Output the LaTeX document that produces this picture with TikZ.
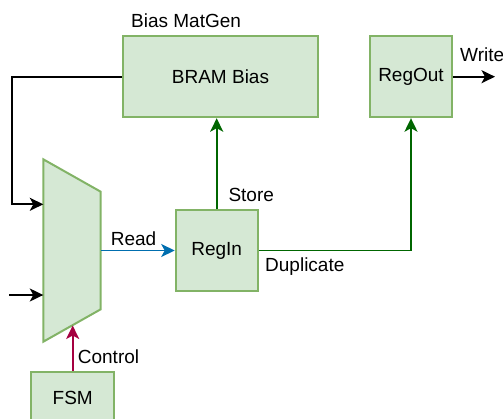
\documentclass[tikz,border=0pt]{standalone}
\usepackage{fontspec}
\setmainfont{Liberation Sans}
\usepackage{xcolor}
\definecolor{blockfill}{HTML}{D5E8D4}
\definecolor{blockdraw}{HTML}{82B366}
\definecolor{storegreen}{HTML}{006600}
\definecolor{readblue}{HTML}{006EAF}
\definecolor{ctrlred}{HTML}{A50040}
\usetikzlibrary{arrows.meta, positioning, calc}

\begin{document}
\begin{tikzpicture}[x=1pt, y=-1pt,
    every node/.style={font=\fontsize{19}{23}\selectfont, inner sep=0pt},
    block/.style={draw=blockdraw, fill=blockfill, line width=2pt},
    wire/.style={line width=1.8pt, -{Stealth[length=13.5pt, width=13pt, inset=3.5pt]}}]
    \useasboundingbox (0,0) rectangle (503,418);
    % Bias MatGen: y = 36 to 117
    \node[anchor=base west] (matgen) at (131,27.3) {Bias MatGen};
    \node[block, minimum width=195pt, minimum height=81pt] (bram) at (220.5,76.7) {BRAM Bias};
    \node[block, minimum width=81.7pt, minimum height=81pt] (regout) at (411,76.7) {RegOut};
    % Registers and FSM
    \node[block, minimum width=82pt, minimum height=81pt] (regin) at (216.7,250.5) {RegIn};
    \node[block, minimum width=83.3pt, minimum height=53pt] (fsm) at (72.7,398.2) {FSM};
    % Mux
    \draw[block] (43.3,159.3) -- (100.7,191.7) -- (100.7,309.3) -- (43.3,341.7) -- cycle;
    \coordinate (muxin1) at (43.3,204.3);
    \coordinate (muxin2) at (43.3,295);
    \coordinate (muxout) at (100.7,250.5);
    \coordinate (muxctl) at (72,325.5);
    \coordinate (loopcorner) at (11.7,76.7);
    \coordinate (extin) at (9.3,295);
    \coordinate (writeend) at (495,76.7);
    % Connectors
    \draw[wire] (bram.west) -- (loopcorner) |- (muxin1);
    \draw[wire] (extin) -- (muxin2);
    \draw[wire, readblue] (muxout) -- (regin.west);
    \draw[wire, storegreen] (regin.north) -- (regin.north |- bram.south);
    \draw[wire, storegreen] (regin.east) -| (regout.south);
    \draw[wire, ctrlred] (fsm.north) -- (fsm.north |- muxctl);
    \draw[wire] (regout.east) -- (writeend);
    % Labels
    \node[anchor=base west] (readlbl) at (110.7,245) {Read};
    \node[anchor=base west] (storelbl) at (228.3,201.7) {Store};
    \node[anchor=base west] (duplbl) at (265,271) {Duplicate};
    \node[anchor=base west] (ctrllbl) at (77.7,363.3) {Control};
    \node[anchor=base west] (writelbl) at (460,61.7) {Write};
\end{tikzpicture}
\end{document}
